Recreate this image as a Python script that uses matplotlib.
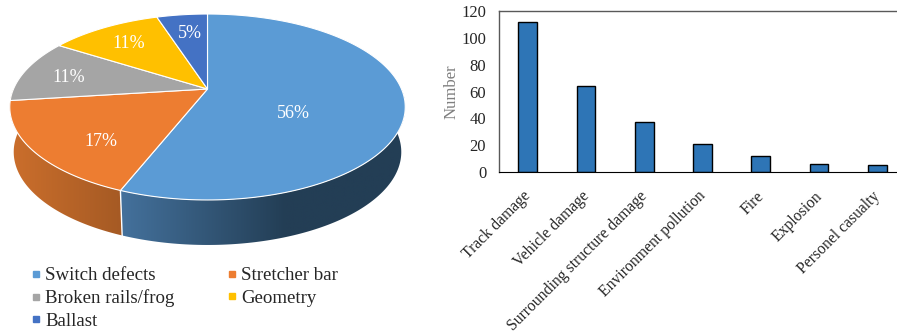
import matplotlib
matplotlib.use('Agg')
import matplotlib.pyplot as plt
import matplotlib.transforms as mtrans
from matplotlib.lines import Line2D
from matplotlib.colors import LinearSegmentedColormap
import numpy as np

plt.rcParams['font.family'] = ['Liberation Serif', 'DejaVu Serif']

# pie data
causes = ['Switch defects', 'Stretcher bar', 'Broken rails/frog', 'Geometry', 'Ballast']
shares = [56, 17, 11, 11, 5]
top_colors = ['#5b9bd5', '#ed7d31', '#a5a5a5', '#ffc000', '#4472c4']

# bar data
consequences = ['Track damage', 'Vehicle damage', 'Surrounding structure damage',
                'Environment pollution', 'Fire', 'Explosion', 'Personel casualty']
counts = [112, 64, 37, 21, 12, 6, 5]

W, H = 897, 331
fig = plt.figure(figsize=(W / 100, H / 100), dpi=100)

# whole figure in pixel coordinates for the tilted pie
pie_ax = fig.add_axes([0, 0, 1, 1])
pie_ax.axis('off')

cx, cy = 207.5, 89
a, b, k = 194, 89.5, 0.1935
depth = 45
shrink = 0.98


def project(frac):
    # fraction of the turn (clockwise from 12 o'clock) to a point on the tilted disc
    t = 2 * np.pi * np.asarray(frac)
    u, v = np.sin(t), -np.cos(t)
    w = 1 - k * v
    return a * u / w, b * v / w


edges = np.concatenate([[0], np.cumsum(shares)]) / np.sum(shares)

# side wall of the two front slices, each a horizontal gradient clipped to the wall outline.
# the orange wall runs on to the widest point of the disc, the top face hides the extra part
wall_ramps = [[(0, '#44719c'), (0.58, '#233e55'), (1, '#233e55')], [(0, '#cc6f2c'), (1, '#a55a24')]]
wall_spans = [(121, 405), (8, 123)]
wall_ends = [edges[1], 0.76]
for i in range(2):
    fr = np.linspace(edges[i], wall_ends[i], 200)
    px, py = project(fr)
    top_x, top_y = cx + px, cy + py
    bot_x, bot_y = cx + px * shrink, cy + py + depth
    outline = np.column_stack([np.concatenate([top_x, bot_x[::-1]]),
                               np.concatenate([top_y, bot_y[::-1]])])
    x0, x1 = wall_spans[i]
    cmap = LinearSegmentedColormap.from_list('wall%d' % i, wall_ramps[i])
    im = pie_ax.imshow(np.linspace(0, 1, 256)[None, :], cmap=cmap, aspect='auto',
                       extent=(x0, x1, 260, 90), zorder=2)
    patch = plt.Polygon(outline, closed=True, transform=pie_ax.transData, facecolor='none', edgecolor='none')
    pie_ax.add_patch(patch)
    im.set_clip_path(patch)
    if i == 0:
        # white seam between the walls
        pie_ax.plot([top_x[-1], bot_x[-1]], [top_y[-1], bot_y[-1]], color='white', lw=1, zorder=3)

# imshow resets the limits, so set them afterwards
pie_ax.set_xlim(0, W)
pie_ax.set_ylim(H, 0)

# top face
for i in range(len(shares)):
    fr = np.linspace(edges[i], edges[i + 1], 160)
    px, py = project(fr)
    xs = np.concatenate([[cx], cx + px])
    ys = np.concatenate([[cy], cy + py])
    pie_ax.fill(xs, ys, facecolor=top_colors[i], edgecolor='white', linewidth=0.8, zorder=4)

# percentage labels
label_xy = [(293.5, 113), (101, 141), (69, 77), (129, 44), (190, 33)]
for s, (lx, ly) in zip(shares, label_xy):
    pie_ax.text(lx, ly, '%d%%' % s, color='white', fontsize=13, ha='center', va='center', zorder=5)

handles = [Line2D([], [], linestyle='none', marker='s', markersize=4.2, color=c) for c in top_colors]
order = [0, 2, 4, 1, 3]
fig.legend([handles[i] for i in order], [causes[i] for i in order], ncol=2,
           loc='upper left', bbox_to_anchor=(31 / W, 1 - 267 / H), frameon=False,
           fontsize=13.6, labelspacing=0.28, handlelength=0.55, handletextpad=0.2,
           columnspacing=2.76, borderpad=0, borderaxespad=0, labelcolor='#262626')

# bar chart, runs off the right edge of the figure
left, right, top, bottom = 498.7, 906.3, 11.5, 171.7
ax = fig.add_axes([left / W, 1 - bottom / H, (right - left) / W, (bottom - top) / H])
ax.bar(range(len(counts)), counts, width=0.32, color='#2e75b6', edgecolor='black', linewidth=1)
ax.set_xlim(-0.5, 6.5)
ax.set_ylim(0, 120)
ax.set_yticks(range(0, 121, 20))
ax.set_xticks(range(len(counts)))
ax.set_xticklabels(consequences, rotation=45, ha='right', rotation_mode='anchor', color='#262626')
ax.tick_params(axis='both', length=0, labelsize=12, colors='#262626')
ax.tick_params(axis='x', pad=9, labelsize=11.3)
ax.tick_params(axis='y', pad=9)
ax.set_ylabel('Number', fontsize=12, color='#7f7f7f', labelpad=1)
# nudge the slanted labels left and down
shift = mtrans.ScaledTranslation(-5 / 100, -4 / 100, fig.dpi_scale_trans)
for lab in ax.get_xticklabels():
    lab.set_transform(lab.get_transform() + shift)
for side in ['top', 'left', 'right']:
    ax.spines[side].set_color('#595959')
    ax.spines[side].set_linewidth(1)
ax.spines['bottom'].set_color('black')

fig.savefig('out.png', dpi=100)
